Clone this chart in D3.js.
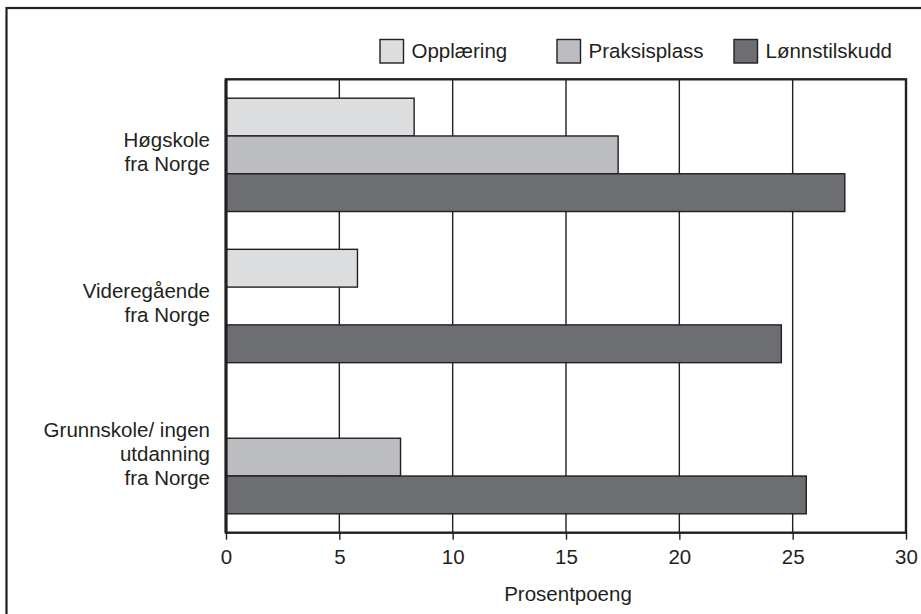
<!DOCTYPE html>
<html>
<head>
<meta charset="utf-8">
<script src="https://cdn.jsdelivr.net/npm/d3@7"></script>
<style>
  html, body { margin: 0; padding: 0; background: #fff; }
  svg { display: block; font-family: "Liberation Sans", Arial, Helvetica, sans-serif; }
</style>
</head>
<body>
<svg id="chart" width="921" height="614"></svg>
<script>
// ---- Data ----
const categories = [
  ["Høgskole", "fra Norge"],
  ["Videregående", "fra Norge"],
  ["Grunnskole/ ingen", "utdanning", "fra Norge"]
];
const seriesNames = ["Opplæring", "Praksisplass", "Lønnstilskudd"];
const opplaering    = [8.3, 5.8, null];
const praksisplass  = [17.3, null, 7.7];
const lonnstilskudd = [27.3, 24.5, 25.6];
const xTicks = [0, 5, 10, 15, 20, 25, 30];
const xTitle = "Prosentpoeng";
const seriesColors = ["#dcdddf", "#bcbdc0", "#6d6e71"];

const seriesValues = [opplaering, praksisplass, lonnstilskudd];
const ink = "#231f20";
const fs = "20.5px";

const svg = d3.select("#chart");
const plot = { left: 226, right: 906, top: 79.3, bottom: 532.7 };

// outer frame (extends beyond right/bottom edges of the picture)
svg.append("rect")
  .attr("x", 6.5).attr("y", 8).attr("width", 930).attr("height", 640)
  .attr("fill", "none").attr("stroke", ink).attr("stroke-width", 2.2);

const x = d3.scaleLinear().domain([0, 30]).range([plot.left, plot.right]);
const y0 = d3.scaleBand().domain(d3.range(categories.length))
  .range([plot.top, plot.bottom]).paddingInner(0.25).paddingOuter(0.125);
const y1 = d3.scaleBand().domain(d3.range(seriesNames.length))
  .range([0, y0.bandwidth()]).padding(0);

// gridlines
svg.append("g").selectAll("line").data(xTicks.filter(t => t > 0 && t < 30)).join("line")
  .attr("x1", d => x(d)).attr("x2", d => x(d))
  .attr("y1", plot.top).attr("y2", plot.bottom)
  .attr("stroke", ink).attr("stroke-width", 1.4);

// bars
const groups = svg.append("g").selectAll("g").data(categories).join("g")
  .attr("transform", (d, i) => `translate(0,${y0(i)})`);
groups.each(function(cat, ci) {
  const g = d3.select(this);
  seriesValues.forEach((vals, si) => {
    const v = vals[ci];
    if (v == null) return;
    g.append("rect")
      .attr("x", x(0)).attr("y", y1(si))
      .attr("width", x(v) - x(0)).attr("height", y1.bandwidth())
      .attr("fill", seriesColors[si]).attr("stroke", ink).attr("stroke-width", 1.4);
  });
});

// plot frame
svg.append("rect")
  .attr("x", plot.left).attr("y", plot.top)
  .attr("width", plot.right - plot.left).attr("height", plot.bottom - plot.top)
  .attr("fill", "none").attr("stroke", ink).attr("stroke-width", 2.4);
svg.append("line")
  .attr("x1", plot.left).attr("x2", plot.left).attr("y1", plot.top).attr("y2", plot.bottom)
  .attr("stroke", ink).attr("stroke-width", 3);

// x axis
const xAxis = d3.axisBottom(x).tickValues(xTicks).tickSize(7).tickPadding(10).tickFormat(d3.format("d"));
const ax = svg.append("g").attr("transform", `translate(0,${plot.bottom})`).call(xAxis);
ax.select(".domain").remove();
ax.selectAll(".tick line").attr("stroke", ink).attr("stroke-width", 1.4);
ax.selectAll(".tick text").attr("fill", ink).style("font-size", fs)
  .attr("font-family", "'Liberation Sans', Arial, sans-serif");

svg.append("text").attr("x", 568).attr("y", 601).attr("text-anchor", "middle")
  .attr("fill", ink).style("font-size", fs).text(xTitle);

// category labels
const lineH = 24;
categories.forEach((lines, ci) => {
  const cy = y0(ci) + y0.bandwidth() / 2;
  const t = svg.append("text").attr("text-anchor", "end").attr("fill", ink).style("font-size", fs);
  lines.forEach((ln, li) => {
    t.append("tspan").attr("x", 210)
      .attr("y", cy + (li - (lines.length - 1) / 2) * lineH + 4)
      .text(ln);
  });
});

// legend
const legend = svg.append("g").selectAll("g").data(seriesNames).join("g")
  .attr("transform", (d, i) => `translate(${380 + i * 177},39.5)`);
legend.append("rect").attr("width", 23.5).attr("height", 23.5)
  .attr("fill", (d, i) => seriesColors[i]).attr("stroke", ink).attr("stroke-width", 1.4);
legend.append("text").attr("x", 31.5).attr("y", 18.5).attr("fill", ink)
  .style("font-size", fs).text(d => d);
</script>
</body>
</html>
